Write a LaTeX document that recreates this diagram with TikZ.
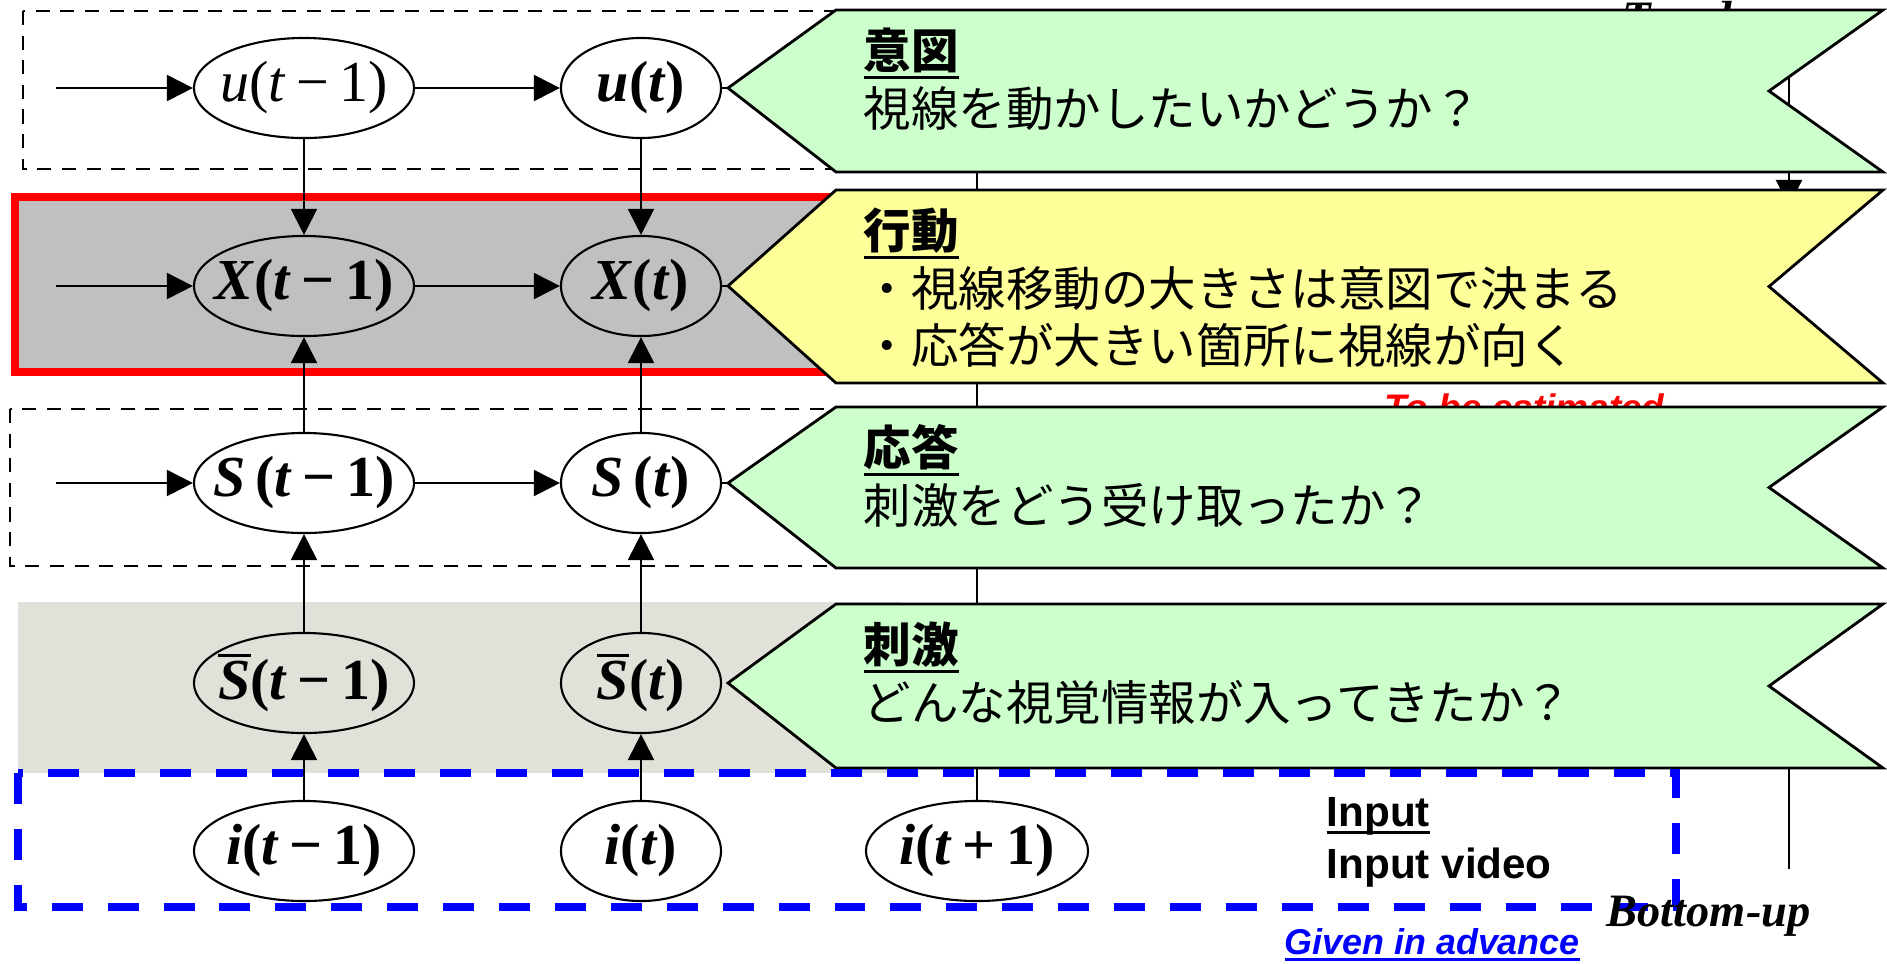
\documentclass[tikz,border=0pt]{standalone}
\usepackage{fontspec}
\setmainfont{Liberation Serif}
\newfontfamily\arialf{Liberation Sans}
\newfontfamily\jp{Noto Sans CJK JP}
\usetikzlibrary{shapes.geometric,arrows.meta}
\definecolor{bgreen}{HTML}{CCFFCC}
\definecolor{byellow}{HTML}{FFFF99}
\definecolor{xgray}{HTML}{C0C0C0}
\definecolor{beige}{HTML}{E1E1DA}
\newcommand\ulbox[2][3pt]{\sbox0{#2}\rlap{\rule[-#1]{\wd0}{0.8pt}}\usebox0}
\newcommand\ovlS[1]{\sbox0{#1}\rlap{\raisebox{\dimexpr\ht0+1.2pt}{\rule{\wd0}{0.9pt}}}\usebox0}
\newcommand\bi[1]{\textbf{\textit{#1}}}
\newcommand\mns{\hspace{.18em}−\hspace{.18em}}
\newcommand\pls{\hspace{.18em}+\hspace{.18em}}
\newcommand\banner[4]{%
  \draw[bannerline, fill=#4] (728,#3) -- (836,#1) -- (1883,#1) -- (1769,{(#1+#2)/2}) -- (1883,#2) -- (836,#2) -- cycle;}
\begin{document}
\begin{tikzpicture}[x=0.01cm,y=-0.01cm,
  ell/.style={ellipse, draw, line width=0.6pt, inner xsep=-9pt, inner ysep=-5pt, minimum height=1cm, font=\fontsize{16.5}{18}\selectfont},
  wide/.style={ell, minimum width=2.2cm},
  narrow/.style={ell, minimum width=1.6cm},
  arr/.style={-{Triangle[length=7.4pt,width=7.4pt]}, line width=0.6pt},
  plain/.style={line width=0.6pt},
  bannerline/.style={line width=0.8pt, line join=miter},
  btext/.style={anchor=base west, inner sep=0pt, font=\jp\fontsize{13.5}{16}\selectfont},
  bdash/.style={line width=0.5pt, dash pattern=on 4pt off 3pt},
]
\useasboundingbox (0,0) rectangle (1887,963);
\fill[white] (0,0) rectangle (1887,963);

% background regions
\fill[beige] (18,602) rectangle (900,773);
\draw[red, line width=2.2pt, fill=xgray] (15,197) rectangle (900,372);
\draw[bdash] (23,11) rectangle (900,169);
\draw[bdash] (10,409) rectangle (900,566);

% hidden texts and right lines
\node[anchor=north west, inner sep=0pt, font=\bfseries\itshape\fontsize{13.2}{15}\selectfont] (td) at (1622,1) {Top-down};
\node[anchor=base west, inner sep=0pt, text=red, font=\arialf\bfseries\itshape\fontsize{10.5}{12}\selectfont] (tbe) at (1384,420) {To be estimated};
\coordinate (tdtop) at (1789,60);
\coordinate (tdend) at (1789,206);
\draw[arr] (tdtop) -- (tdend);
\coordinate (bubot) at (1789,869);
\coordinate (butop) at (1789,720);
\draw[plain] (bubot) -- (butop);

% nodes
\node[wide, fill=white] (u1) at (304,88) {\textit{u}(\textit{t}\mns 1)};
\node[narrow, fill=white] (u2) at (641,88) {\bi{u}\textbf{(}\bi{t}\textbf{)}};
\node[wide] (x1) at (304,286) {\textbf{\textit{X}(\textit{t}\mns 1)}};
\node[narrow] (x2) at (641,286) {\textbf{\textit{X}(\textit{t})}};
\node[wide, fill=white] (s1) at (304,483) {\textbf{\textit{S}\,(\textit{t}\mns 1)}};
\node[narrow, fill=white] (s2) at (641,483) {\textbf{\textit{S}\,(\textit{t})}};
\node[wide] (b1) at (304,683) {\textbf{\ovlS{\bi{S}}(\textit{t}\mns 1)}};
\node[narrow] (b2) at (641,683) {\textbf{\ovlS{\bi{S}}(\textit{t})}};
\node[wide, fill=white] (i1) at (304,851) {\textbf{\textit{i}(\textit{t}\mns 1)}};
\node[narrow, fill=white] (i2) at (641,851) {\textbf{\textit{i}(\textit{t})}};
\node[wide, minimum width=2.22cm, fill=white] (i3) at (977,851) {\textbf{\textit{i}(\textit{t}\pls 1)}};

\coordinate (u0) at (56,88);
\coordinate (x0) at (56,286);
\coordinate (s0) at (56,483);
\coordinate (uR) at (800,88);
\coordinate (xR) at (800,286);
\coordinate (sR) at (800,483);
\coordinate (midtop) at (977,120);

\draw[arr] (u0) -- (u1);
\draw[arr] (u1) -- (u2);
\draw[plain] (u2.east) -- (uR);
\draw[arr] (x0) -- (x1);
\draw[arr] (x1) -- (x2);
\draw[plain] (x2.east) -- (xR);
\draw[arr] (s0) -- (s1);
\draw[arr] (s1) -- (s2);
\draw[plain] (s2.east) -- (sR);
\foreach \c in {1,2}{
  \draw[arr] (u\c.south) -- (x\c.north);
  \draw[arr] (s\c.north) -- (x\c.south);
  \draw[arr] (b\c.north) -- (s\c.south);
  \draw[arr] (i\c.north) -- (b\c.south);
}
\draw[plain] (i3.north) -- (midtop);

% banners
\banner{10}{172}{88}{bgreen}
\banner{190}{383}{286}{byellow}
\banner{407}{568}{483}{bgreen}
\banner{604}{768}{683}{bgreen}

\node[btext] (t1a) at (863,68) {\ulbox{\bfseries 意図}};
\node[btext] (t1b) at (863,126) {視線を動かしたいかどうか？};
\node[btext] (t2a) at (863,248) {\ulbox{\bfseries 行動}};
\node[btext] (t2b) at (863,306) {・視線移動の大きさは意図で決まる};
\node[btext] (t2c) at (863,363) {・応答が大きい箇所に視線が向く};
\node[btext] (t3a) at (863,465) {\ulbox{\bfseries 応答}};
\node[btext] (t3b) at (863,523) {刺激をどう受け取ったか？};
\node[btext] (t4a) at (863,662) {\ulbox{\bfseries 刺激}};
\node[btext] (t4b) at (863,720) {どんな視覚情報が入ってきたか？};

% input box
\draw[blue, line width=2pt, dash pattern=on 8.8pt off 7.1pt] (18,773) rectangle (1676,907);
\node[anchor=base west, inner sep=0pt, font=\arialf\bfseries\fontsize{12}{14}\selectfont] (in1) at (1326,826) {\ulbox[2.2pt]{Input}};
\node[anchor=base west, inner sep=0pt, font=\arialf\bfseries\fontsize{12}{14}\selectfont] (in2) at (1326,878) {Input video};
\node[anchor=base west, inner sep=0pt, text=blue, font=\arialf\bfseries\itshape\fontsize{10.2}{12}\selectfont] (gia) at (1284,954) {\ulbox[2pt]{Given in advance}};
\node[anchor=base west, inner sep=0pt, font=\bfseries\itshape\fontsize{13.2}{15}\selectfont] (bu) at (1606,926) {Bottom-up};
\end{tikzpicture}
\end{document}
